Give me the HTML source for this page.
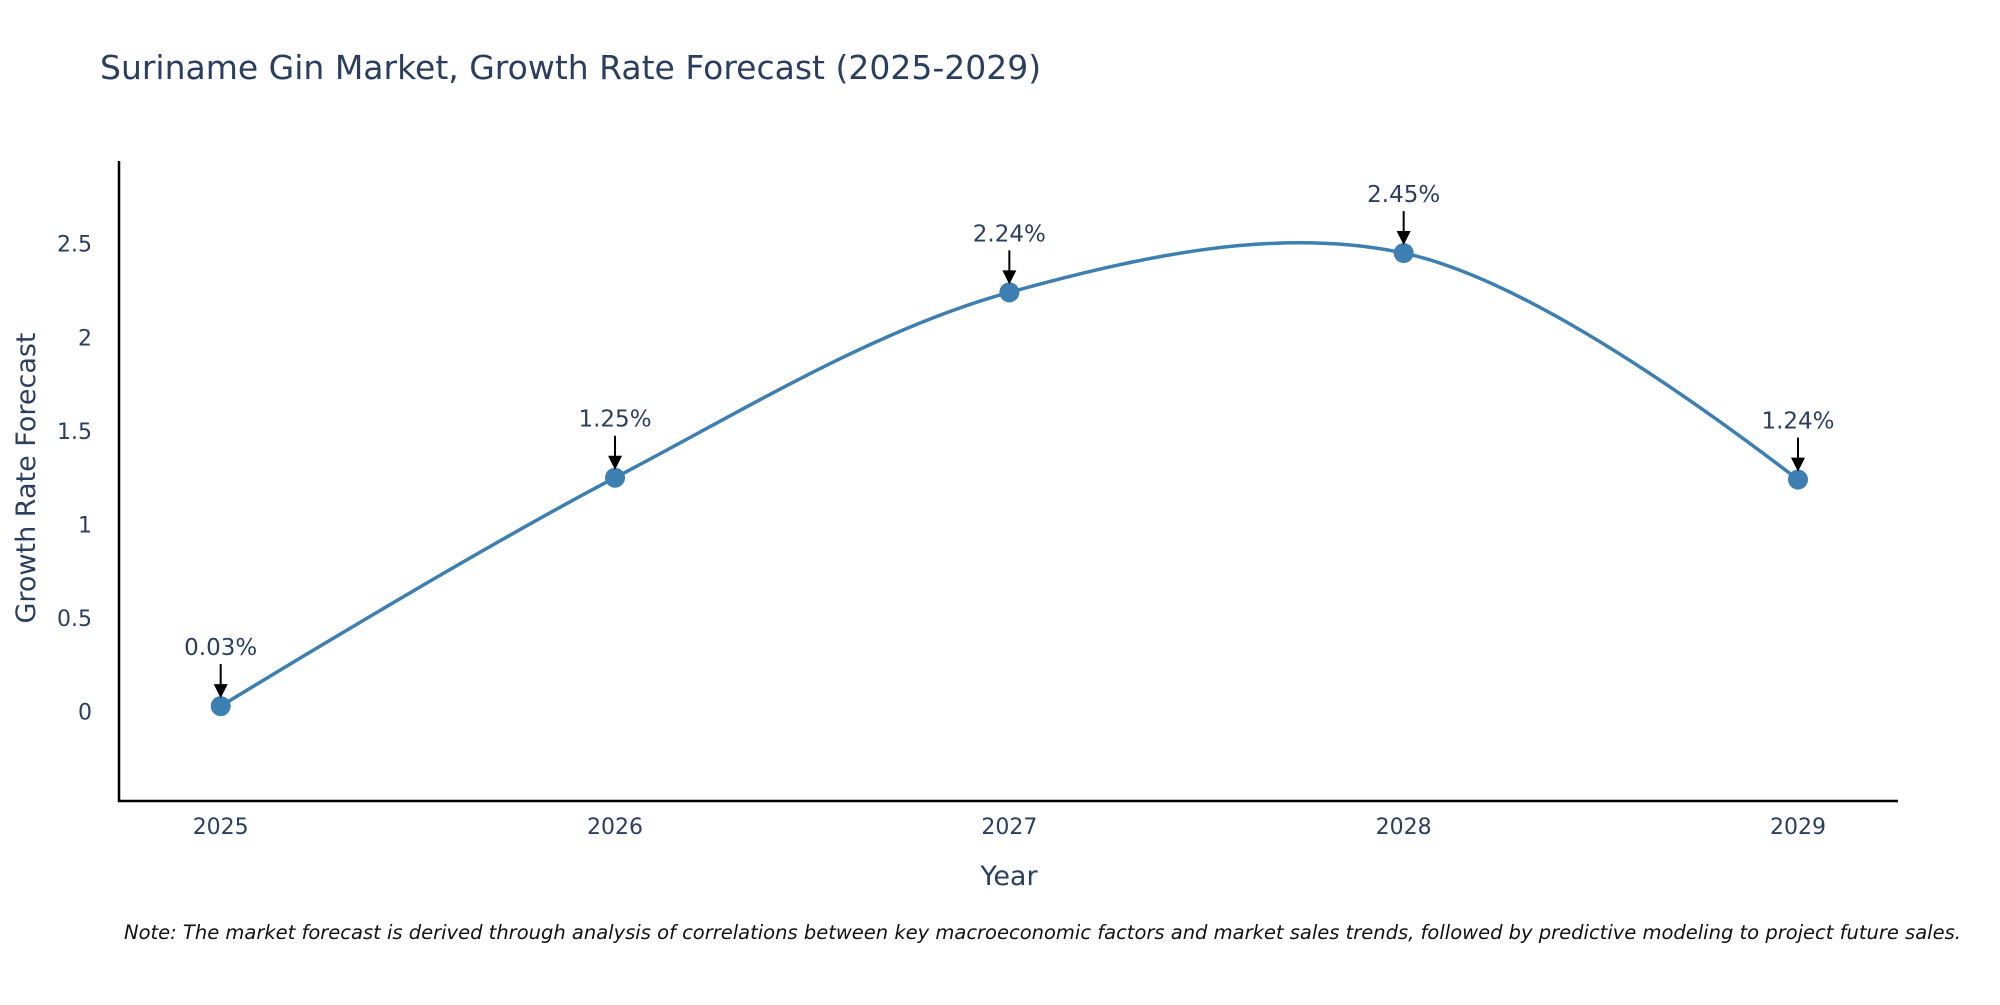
<!DOCTYPE html>
<html><head><meta charset="utf-8"><style>
html,body{margin:0;padding:0;background:#fff;overflow:hidden;}
svg text{font-family:"DejaVu Sans","Liberation Sans",sans-serif;}
</style></head><body>
<svg id="chart" width="2000" height="1000" viewBox="0 0 2000 1000" xmlns="http://www.w3.org/2000/svg">
<text x="100" y="79" font-size="33" fill="#2a3f5f">Suriname Gin Market, Growth Rate Forecast (2025-2029)</text>
<g id="yticks"></g>
<g id="xticks"></g>
<line x1="119" y1="161" x2="119" y2="802" stroke="#000" stroke-width="2.5"/>
<line x1="118" y1="801" x2="1898" y2="801" stroke="#000" stroke-width="2.5"/>
<g id="series"></g>
<g id="annots"></g>
<text x="1009" y="885" font-size="27" fill="#2a3f5f" text-anchor="middle">Year</text>
<text x="0" y="0" font-size="27" fill="#2a3f5f" text-anchor="middle" transform="translate(35,478) rotate(-90)">Growth Rate Forecast</text>
<text x="124" y="939" font-size="19.5" font-style="italic" fill="#111">Note: The market forecast is derived through analysis of correlations between key macroeconomic factors and market sales trends, followed by predictive modeling to project future sales.</text>
</svg>
<script>
const years = [2025, 2026, 2027, 2028, 2029];
const growth = [0.03, 1.25, 2.24, 2.45, 1.24];
const valueLabels = ["0.03%", "1.25%", "2.24%", "2.45%", "1.24%"];
const yTickValues = [0, 0.5, 1, 1.5, 2, 2.5];
const yTickLabels = ["0", "0.5", "1", "1.5", "2", "2.5"];

const NS = "http://www.w3.org/2000/svg";
function xs(v){ return 220.7 + (v - 2025) * (1798 - 220.7) / 4; }
function ys(v){ return 711.7 - v * 187.2; }
function mk(tag, attrs, parent){ const e=document.createElementNS(NS,tag); for(const k in attrs) e.setAttribute(k,attrs[k]); parent.appendChild(e); return e; }

const yt=document.getElementById('yticks');
yTickValues.forEach((v,i)=>{
  const t=mk('text',{x:92,y:ys(v)+8,'font-size':22,fill:'#2a3f5f','text-anchor':'end'},yt);
  
  
  t.textContent=yTickLabels[i];
});
const xt=document.getElementById('xticks');
years.forEach(y=>{
  const t=mk('text',{x:xs(y),y:834,'font-size':22,fill:'#2a3f5f','text-anchor':'middle'},xt);
  
  
  t.textContent=String(y);
});

const pts = years.map((y,i)=>[xs(y), ys(growth[i])]);
function tangent(p,c,n,s){
  const d1x=p[0]-c[0],d1y=p[1]-c[1],d2x=n[0]-c[0],d2y=n[1]-c[1];
  const d1a=Math.pow(d1x*d1x+d1y*d1y,0.25),d2a=Math.pow(d2x*d2x+d2y*d2y,0.25);
  const nx=(d2a*d2a*d1x-d1a*d1a*d2x)*s, ny=(d2a*d2a*d1y-d1a*d1a*d2y)*s;
  const den1=3*d2a*(d1a+d2a), den2=3*d1a*(d1a+d2a);
  return [[c[0]+nx/den1,c[1]+ny/den1],[c[0]-nx/den2,c[1]-ny/den2]];
}
const tg=[];
for(let i=1;i<pts.length-1;i++) tg.push(tangent(pts[i-1],pts[i],pts[i+1],1));
let d='M'+pts[0].join(',')+'Q'+tg[0][0].join(',')+' '+pts[1].join(',');
for(let i=2;i<pts.length-1;i++) d+='C'+tg[i-2][1].join(',')+' '+tg[i-1][0].join(',')+' '+pts[i].join(',');
d+='Q'+tg[tg.length-1][1].join(',')+' '+pts[pts.length-1].join(',');
const sg=document.getElementById('series');
const line=mk('path',{d:d,fill:'none',stroke:'#3d7fb0','stroke-width':3.5},sg);


pts.forEach(p=>{
  const c=mk('circle',{cx:p[0],cy:p[1],r:10,fill:'#3d7fb0'},sg);
  
  
});

const ag=document.getElementById('annots');
pts.forEach((p,i)=>{
  const l=mk('line',{x1:p[0],y1:p[1]-42,x2:p[0],y2:p[1]-20,stroke:'#000','stroke-width':2},ag);
  
  
  const h=mk('path',{d:`M${p[0]-7},${p[1]-22}L${p[0]+7},${p[1]-22}L${p[0]},${p[1]-8}Z`,fill:'#000'},ag);
  
  
  const t=mk('text',{x:p[0],y:p[1]-51,'font-size':23,fill:'#2a3f5f','text-anchor':'middle'},ag);
  
  
  t.textContent=valueLabels[i];
});
</script>
</body></html>
